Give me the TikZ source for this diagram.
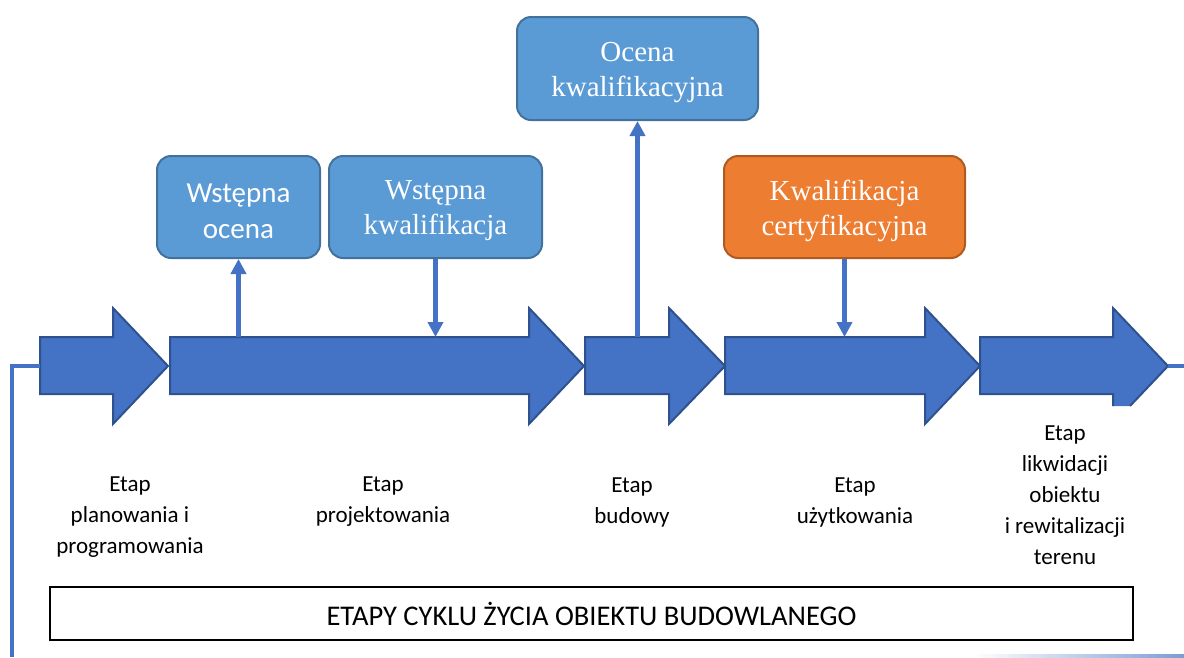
\documentclass[tikz,border=0pt]{standalone}
\usepackage{fontspec}
\setmainfont{Carlito}
\newfontfamily\timesfont{Liberation Serif}
\usetikzlibrary{positioning,arrows.meta}

\definecolor{stageblue}{HTML}{4472C4}
\definecolor{stageedge}{HTML}{2F528F}
\definecolor{boxblue}{HTML}{5B9BD5}
\definecolor{boxedge}{HTML}{41719C}
\definecolor{certorange}{HTML}{ED7D31}
\definecolor{certedge}{HTML}{AE5A21}

\begin{document}
\begin{tikzpicture}[x=1pt,y=-1pt,
    stagearrow/.style={fill=stageblue,draw=stageedge,line width=2pt,line join=miter},
    evalbox/.style={rounded corners=14pt,fill=boxblue,draw=boxedge,line width=2pt,
        minimum height=102pt,inner sep=0pt},
    evaltext/.style={text=white,align=center,yshift=-4pt,inner sep=0pt,font=\timesfont\fontsize{29}{35}\selectfont},
    link/.style={draw=stageblue,line width=4.5pt,-{Triangle[width=15pt,length=15pt]}},
    stagelabel/.style={align=center,font=\fontsize{23}{31}\selectfont}]

\useasboundingbox (0,0) rectangle (1184,657);

% stage arrows
\foreach \name/\xa/\xb/\xc in {plan/40/113/168, proj/170/529/584, bud/585/669/725, uzyt/725/925/980} {
    \draw[stagearrow] (\xa,337) -- (\xb,337) -- (\xb,308) -- (\xc,366) -- (\xb,424) -- (\xb,394) -- (\xa,394) -- cycle;
    \coordinate (\name) at (\xa,366);
}
\fill[stageblue] (980,337) -- (1113,337) -- (1113,308) -- (1168,366) -- (1130,406) -- (1113,406) -- (1113,394) -- (980,394) -- cycle;
\draw[stageedge,line width=2pt] (1130,406) -- (1168,366) -- (1113,308) -- (1113,337) -- (980,337) -- (980,394) -- (1113,394) -- (1113,406);
\coordinate (likwtip) at (1168,366);

% frame lines
\coordinate (leftbend) at (12,366);
\coordinate (leftdrop) at (12,657);
\coordinate (rightend) at (1184,366);
\draw[stageblue,line width=4.5pt] (plan) -- (leftbend) -- (leftdrop);
\draw[stageblue,line width=4.5pt] (likwtip) -- (rightend);
\shade[left color=white,right color=stageblue!70] (973,654) rectangle (1184,657);

% evaluation boxes
\node[evalbox,minimum width=163pt,
    label={[evaltext,font=\fontsize{29}{36}\selectfont]center:Wstępna\\ocena}] (wocena) at (238.5,207) {};
\node[evalbox,minimum width=213pt,
    label={[evaltext]center:Wstępna\\kwalifikacja}] (wkwal) at (435.5,207) {};
\node[evalbox,minimum width=241pt,minimum height=103pt,
    label={[evaltext]center:Ocena\\kwalifikacyjna}] (okwal) at (637.5,68.5) {};
\node[evalbox,fill=certorange,draw=certedge,minimum width=241pt,
    label={[evaltext]center:Kwalifikacja\\certyfikacyjna}] (kcert) at (844.5,207) {};

\coordinate (projup) at (wocena.south |- 0,337);
\coordinate (projdown) at (wkwal.south |- 0,337);
\coordinate (budup) at (okwal.south |- 0,337);
\coordinate (uzytdown) at (kcert.south |- 0,337);
\draw[link] (projup) -- (wocena.south);
\draw[link] (wkwal.south) -- (projdown);
\draw[link] (budup) -- (okwal.south);
\draw[link] (kcert.south) -- (uzytdown);

% stage names
\node[stagelabel] (lplan) at (130,517) {Etap\\planowania i\\programowania};
\node[stagelabel] (lproj) at (383,502) {Etap\\projektowania};
\node[stagelabel] (lbud) at (632,502) {Etap\\budowy};
\node[stagelabel] (luzyt) at (855,502) {Etap\\użytkowania};
\node[stagelabel] (llikw) at (1065,495) {Etap\\likwidacji\\obiektu\\i rewitalizacji\\terenu};

\node[draw=black,line width=1.2pt,minimum width=1083pt,minimum height=53pt,inner sep=0pt,
    text height=23pt,text depth=0pt,
    font=\fontsize{28.5}{34}\selectfont] (cykl) at (591.5,613.5) {ETAPY CYKLU ŻYCIA OBIEKTU BUDOWLANEGO};
\end{tikzpicture}
\end{document}
